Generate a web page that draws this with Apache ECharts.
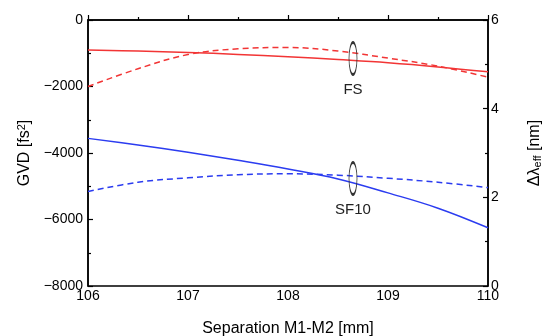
<!DOCTYPE html>
<html>
<head>
<meta charset="utf-8">
<script src="https://cdn.jsdelivr.net/npm/echarts@6/dist/echarts.min.js"></script>
<style>
  html, body { margin: 0; padding: 0; background: #fff; }
  #chart { width: 544px; height: 336px; }
</style>
</head>
<body>
<div id="chart"></div>
<script>
// separation M1-M2 [mm]
const separation = [106, 106.5, 107, 107.5, 108, 108.5, 109, 109.5, 110]
// GVD [fs^2], left axis
const gvdFS = [-900, -935, -975, -1035, -1105, -1190, -1285, -1410, -1560]
const gvdSF10 = [-3560, -3760, -3980, -4220, -4480, -4780, -5200, -5660, -6250]
// delta lambda eff [nm], right axis
const dlFS = [4.5, 4.9, 5.22, 5.35, 5.38, 5.3, 5.14, 4.96, 4.71]
const dlSF10 = [2.13, 2.34, 2.44, 2.51, 2.53, 2.5, 2.43, 2.34, 2.22]
// ellipse markers and labels
const markerX = 108.65
const markerFS = -1160
const markerSF10 = -4770

const font = 'Liberation Sans'
const red = '#f23535'
const blue = '#2b3cf0'

const pairs = (ys) => separation.map((x, i) => [x, ys[i]])
const minus = (v) => String(v).replace('-', '\u2212')

const myChart = echarts.init(document.getElementById('chart'))

const tick = { show: true, inside: true, length: 5, lineStyle: { color: '#000', width: 1.2 } }
const minor = { show: true, splitNumber: 2, length: 3, lineStyle: { color: '#000', width: 1.2 } }
const axisLine = { show: true, lineStyle: { color: '#000', width: 1.5 } }

const ellipse = (name, coord) => ({
  symbol: 'circle',
  symbolSize: [8, 32],
  silent: true,
  itemStyle: { color: 'rgba(0,0,0,0)', borderColor: '#333', borderWidth: 1.5 },
  label: {
    show: true,
    position: 'bottom',
    distance: 6,
    formatter: name,
    color: '#222',
    fontFamily: font,
    fontSize: 15
  },
  data: [{ coord: coord }]
})

const option = {
  animation: false,
  grid: {
    left: 88, right: 56, top: 20, bottom: 50,
    outerBoundsMode: 'none',
    containLabel: false,
    show: true, borderColor: '#000', borderWidth: 1.5
  },
  xAxis: {
    type: 'value',
    min: 106,
    max: 110,
    interval: 1,
    name: 'Separation M1-M2 [mm]',
    nameLocation: 'middle',
    nameGap: 35,
    nameTextStyle: { fontFamily: font, fontSize: 16, color: '#000' },
    axisLine: axisLine,
    axisTick: tick,
    minorTick: minor,
    splitLine: { show: false },
    axisLabel: { color: '#000', fontFamily: font, fontSize: 14, margin: 3 }
  },
  yAxis: [
    {
      type: 'value',
      min: -8000,
      max: 0,
      interval: 2000,
      name: 'GVD [fs{sup|2}]',
      nameLocation: 'middle',
      nameGap: 49,
      nameRotate: 90,
      nameTextStyle: {
        fontFamily: font, fontSize: 16, color: '#000',
        rich: { sup: { fontFamily: font, fontSize: 11, verticalAlign: 'top', padding: [0, 0, 6, 0] } }
      },
      axisLine: axisLine,
      axisTick: tick,
      minorTick: minor,
      splitLine: { show: false },
      axisLabel: { color: '#000', fontFamily: font, fontSize: 14, margin: 5, formatter: minus }
    },
    {
      type: 'value',
      min: 0,
      max: 6,
      interval: 2,
      position: 'right',
      name: '\u0394\u03bb{sub|eff} [nm]',
      nameLocation: 'middle',
      nameGap: 38,
      nameRotate: 90,
      nameTextStyle: {
        fontFamily: font, fontSize: 16, color: '#000',
        rich: { sub: { fontFamily: font, fontSize: 11, verticalAlign: 'bottom', padding: [6, 0, 0, 0] } }
      },
      axisLine: axisLine,
      axisTick: tick,
      minorTick: minor,
      splitLine: { show: false },
      axisLabel: { color: '#000', fontFamily: font, fontSize: 14, margin: 3 }
    }
  ],
  series: [
    {
      name: 'FS GVD',
      type: 'line',
      yAxisIndex: 0,
      smooth: 0.4,
      showSymbol: false,
      data: pairs(gvdFS),
      lineStyle: { color: red, width: 1.5 },
      markPoint: ellipse('FS', [markerX, markerFS])
    },
    {
      name: 'SF10 GVD',
      type: 'line',
      yAxisIndex: 0,
      smooth: 0.4,
      showSymbol: false,
      data: pairs(gvdSF10),
      lineStyle: { color: blue, width: 1.5 },
      markPoint: ellipse('SF10', [markerX, markerSF10])
    },
    {
      name: 'FS dl',
      type: 'line',
      yAxisIndex: 1,
      smooth: 0.4,
      showSymbol: false,
      data: pairs(dlFS),
      lineStyle: { color: red, width: 1.5, type: [6, 4] }
    },
    {
      name: 'SF10 dl',
      type: 'line',
      yAxisIndex: 1,
      smooth: 0.4,
      showSymbol: false,
      data: pairs(dlSF10),
      lineStyle: { color: blue, width: 1.5, type: [6, 4] }
    }
  ]
}
myChart.setOption(option)
</script>
</body>
</html>
